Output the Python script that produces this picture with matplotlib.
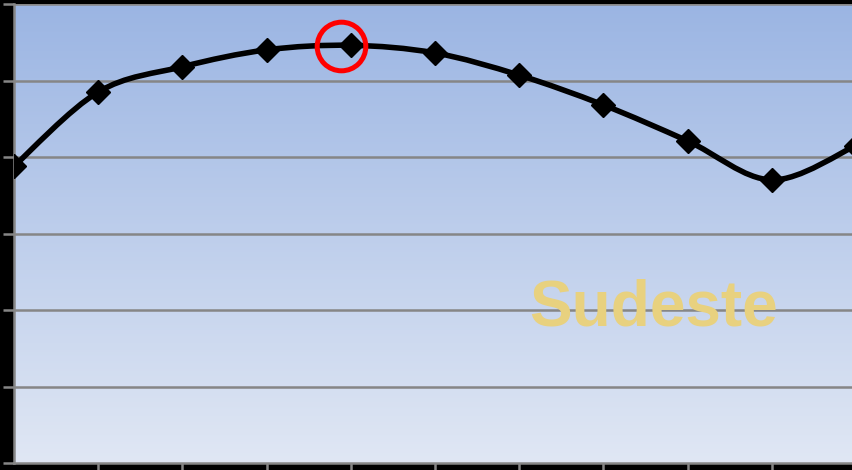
import matplotlib.pyplot as plt
import numpy as np
from matplotlib.path import Path
from matplotlib.patches import PathPatch

######################### Data #########################

categories = list(range(11))
values = [3.88, 4.85, 5.18, 5.40, 5.46, 5.36, 5.07, 4.68, 4.21, 3.70, 4.15]
peak_x = 3.88
peak_y = 5.45
label = 'Sudeste'

######################### Helpers #########################

def smooth_path(xs, ys):
    # bezier path like excel smoothed lines
    pts = np.column_stack([xs, ys]).astype(float)
    n = len(pts)
    verts = [pts[0]]
    codes = [Path.MOVETO]
    for i in range(n - 1):
        p0 = pts[i - 1] if i > 0 else pts[i]
        p1 = pts[i]
        p2 = pts[i + 1]
        p3 = pts[i + 2] if i + 2 < n else pts[i + 1]
        c1 = p1 + (p2 - p0) / 6.0
        c2 = p2 - (p3 - p1) / 6.0
        verts += [c1, c2, p2]
        codes += [Path.CURVE4] * 3
    return Path(verts, codes)

######################### Plot #########################

W, H = 852, 470
fig = plt.figure(figsize=(W / 100, H / 100), dpi=100, facecolor='black')
ax = fig.add_axes([14 / W, 7 / H, 838 / W, 459 / H])

xmax = 838 / 84.2
ax.set_xlim(0, xmax)
ax.set_ylim(0, 6)

# gradient background
top = np.array([155, 181, 227]) / 255.0
bot = np.array([224, 231, 244]) / 255.0
t = np.linspace(0, 1, 256)[:, None]
grad = (top * (1 - t) + bot * t)[:, None, :]
ax.imshow(grad, extent=[0, xmax, 0, 6], aspect='auto', origin='upper', zorder=0)

for yv in range(1, 7):
    ax.axhline(yv, color='#868686', lw=1.8, zorder=1)

patch = PathPatch(smooth_path(categories, values), facecolor='none',
                  edgecolor='black', lw=4, zorder=3, capstyle='round')
ax.add_patch(patch)
ax.plot(categories, values, ls='none', marker='D', ms=12, color='black', zorder=4)

ax.plot([peak_x], [peak_y], marker='o', ms=35, mfc='none', mec='red', mew=3.6, zorder=5)

ax.text(7.59, 2.02, label, fontsize=46, fontweight='bold', color='#e8d17f',
        family=['Liberation Sans', 'DejaVu Sans'], ha='center', va='center', zorder=2)

for s in ['top', 'right']:
    ax.spines[s].set_visible(False)
for s in ['left', 'bottom']:
    ax.spines[s].set_color('#868686')
    ax.spines[s].set_linewidth(1.8)

ax.set_xticks(categories[1:10])
ax.set_yticks(range(0, 7))
ax.tick_params(axis='both', colors='#868686', length=8, width=1.8, labelleft=False, labelbottom=False)

fig.savefig('out.png', dpi=100, facecolor='black')
